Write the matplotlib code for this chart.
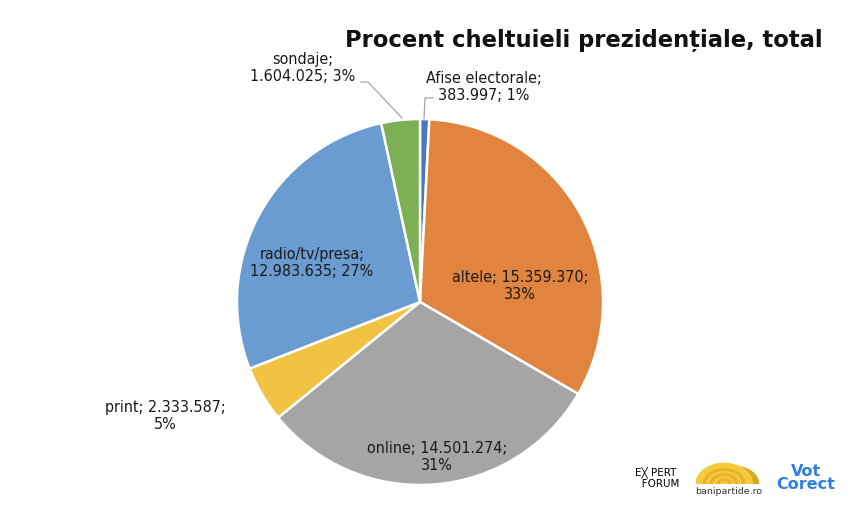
import matplotlib.pyplot as plt
from matplotlib.patches import Wedge

# chart data (clockwise from 12 o'clock)
categories = ['Afise electorale', 'altele', 'online', 'print', 'radio/tv/presa', 'sondaje']
values = [383997, 15359370, 14501274, 2333587, 12983635, 1604025]
value_labels = ['383.997', '15.359.370', '14.501.274', '2.333.587', '12.983.635', '1.604.025']
percents = ['1%', '33%', '31%', '5%', '27%', '3%']
colors = ['#4a76c6', '#e0843f', '#a5a5a5', '#f2c342', '#6a9bd1', '#7daf55']

W, H = 850, 520
cx, cy, r = 420, 302, 183

fig = plt.figure(figsize=(8.5, 5.2), dpi=100)
ax = fig.add_axes([(cx - r) / W, (H - cy - r) / H, 2 * r / W, 2 * r / H])
ax.pie(values, colors=colors, startangle=90, counterclock=False,
       wedgeprops=dict(edgecolor='white', linewidth=1.8))
ax.set_xlim(-1, 1)
ax.set_ylim(-1, 1)
ax.axis('off')


def d(px, py):
    # pixel position -> pie data coords
    return (px - cx) / r, (cy - py) / r


# label text: "category; value;" then percent, line break as in the source
breaks = ['\n', ' ', ' ', ' ', '\n', '\n']
after_val = [' ', '\n', '\n', '\n', ' ', ' ']
spots = [(484, 87), (520, 286), (437, 457), (165, 416), (312, 263), (303, 68)]
for c, v, p, b1, b2, (px, py) in zip(categories, value_labels, percents,
                                      breaks, after_val, spots):
    t = f'{c};{b1}{v};{b2}{p}'
    x, y = d(px, py)
    ax.text(x, y, t, ha='center', va='center', fontsize=11.5,
            family='DejaVu Sans', stretch='condensed', color='#1a1a1a',
            linespacing=1.2, clip_on=False)

# leader lines
for pts in [[(424, 119), (425, 98), (433, 98)],
            [(402, 118), (368, 82), (361, 82)]]:
    xs, ys = zip(*[d(*p) for p in pts])
    ax.plot(xs, ys, color='#a6a6a6', lw=0.9, clip_on=False)

fig.text(823 / W, 1 - 40 / H, 'Procent cheltuieli preziden\u021biale, total',
         ha='right', va='center', fontsize=16.3, fontweight='bold',
         family='DejaVu Sans', color='#111111')

# logos (rough stand-ins)
fig.text(656 / W, 1 - 478 / H, 'E\u2573 PERT\n   FORUM', ha='center', va='center',
         fontsize=7.5, family='DejaVu Sans', color='black', linespacing=1.1)
lax = fig.add_axes([696 / W, 1 - 484 / H, 64 / W, 22 / H])
lax.add_patch(Wedge((0.62, 0), 0.38, 0, 180, color='#d9a82a'))
lax.add_patch(Wedge((0.45, 0), 0.45, 0, 180, color='#f5c93a'))
for rr in (0.33, 0.22, 0.11):
    lax.add_patch(Wedge((0.45, 0), rr, 0, 180, width=0.03, color='#e8b22e'))
lax.set_xlim(0, 1.02)
lax.set_ylim(0, 0.48)
lax.axis('off')
fig.text(729 / W, 1 - 492 / H, 'banipartide.ro', ha='center', va='center',
         fontsize=6.8, family='DejaVu Sans', color='#333333')
fig.text(806 / W, 1 - 478 / H, 'Vot\nCorect', ha='center', va='center',
         fontsize=11.5, fontweight='bold', family='DejaVu Sans',
         color='#2f7fe0', linespacing=0.8)

fig.savefig('out.png', dpi=100, facecolor='white')
